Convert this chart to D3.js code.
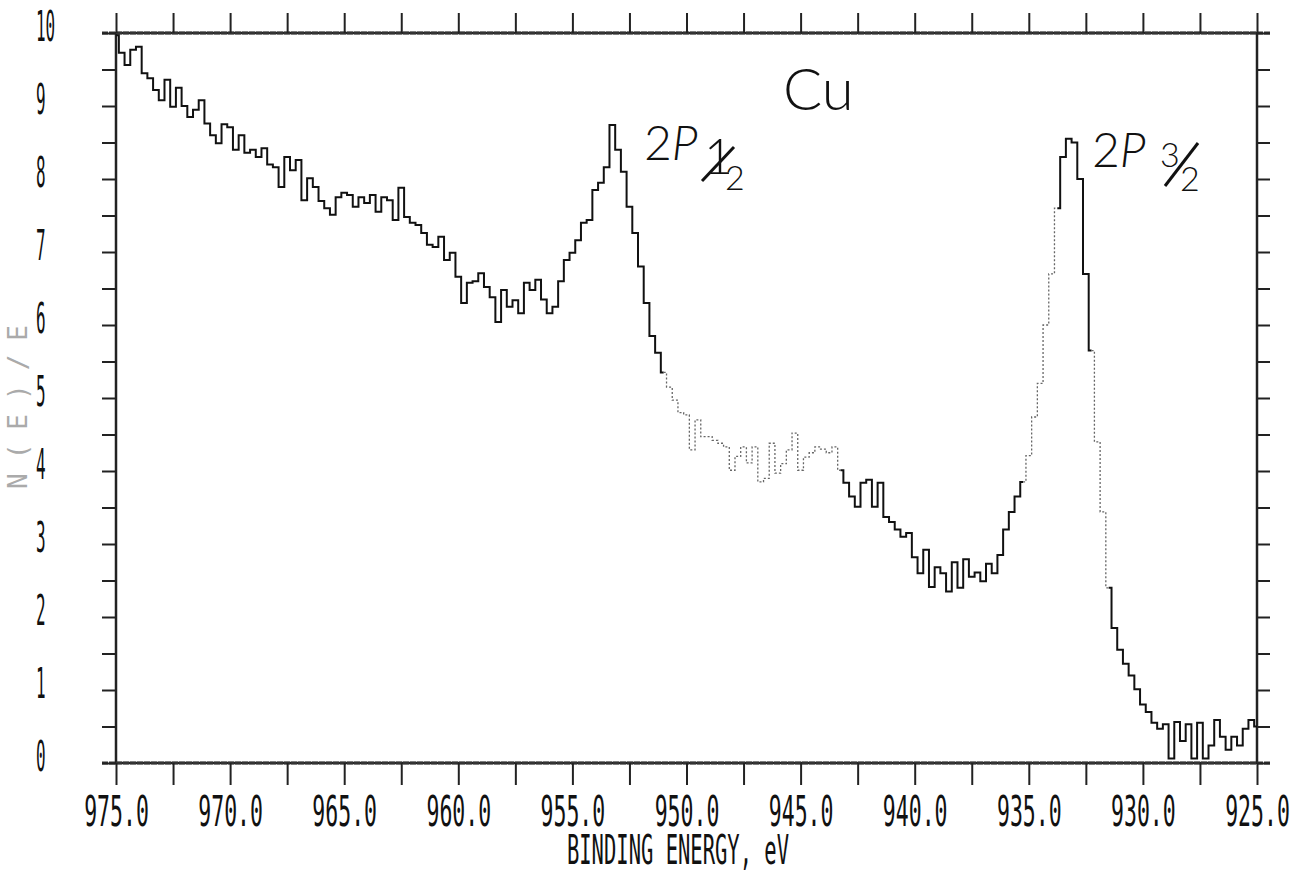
<!DOCTYPE html>
<html>
<head>
  <title>Cu 2p XPS spectrum</title>
  <style>
    body { margin: 0; background: #fff; }
    .tick line { stroke: #222; stroke-width: 2; }
    .domain { display: none; }
  </style>
</head>
<body>
  <div id="chart-container"></div>

  <script src="https://d3js.org/d3.v7.min.js"></script>
  <script>
// binding energy grid: 975.0 eV down to 925.0 eV in 0.25 eV channels
var eStart = 975, eStep = 0.25;

// N(E)/E counts, one per channel
var counts = [
  9.97, 9.73, 9.56, 9.77, 9.81, 9.45, 9.38, 9.22, 9.08, 9.36,
  8.99, 9.25, 9.00, 8.85, 8.95, 9.08, 8.76, 8.60, 8.49, 8.75,
  8.71, 8.40, 8.60, 8.36, 8.40, 8.30, 8.42, 8.20, 8.16, 7.89,
  8.30, 8.12, 8.26, 7.71, 8.01, 7.89, 7.70, 7.60, 7.51, 7.75,
  7.81, 7.78, 7.62, 7.75, 7.67, 7.78, 7.55, 7.75, 7.71, 7.44,
  7.88, 7.48, 7.40, 7.37, 7.26, 7.10, 7.07, 7.21, 6.89, 6.99,
  6.66, 6.30, 6.58, 6.60, 6.71, 6.52, 6.38, 6.04, 6.48, 6.25,
  6.34, 6.16, 6.58, 6.48, 6.62, 6.35, 6.16, 6.25, 6.60, 6.89,
  6.99, 7.16, 7.40, 7.44, 7.85, 7.95, 8.16, 8.74, 8.40, 8.10,
  7.62, 7.26, 6.80, 6.30, 5.85, 5.62, 5.35, 5.15, 4.97, 4.80,
  4.77, 4.29, 4.70, 4.47, 4.47, 4.42, 4.38, 4.33, 4.01, 4.20,
  4.33, 4.11, 4.33, 3.85, 3.90, 4.38, 3.97, 4.10, 4.29, 4.52,
  4.01, 4.19, 4.25, 4.33, 4.30, 4.25, 4.33, 4.01, 3.84, 3.65,
  3.51, 3.84, 3.88, 3.51, 3.84, 3.37, 3.30, 3.20, 3.10, 3.15,
  2.82, 2.60, 2.92, 2.41, 2.68, 2.60, 2.35, 2.75, 2.40, 2.79,
  2.55, 2.61, 2.49, 2.73, 2.60, 2.85, 3.20, 3.44, 3.65, 3.85,
  4.21, 4.74, 5.20, 6.00, 6.70, 7.60, 8.30, 8.55, 8.50, 8.00,
  6.70, 5.65, 4.40, 3.44, 2.40, 1.85, 1.55, 1.36, 1.20, 1.01,
  0.80, 0.70, 0.55, 0.47, 0.53, 0.06, 0.56, 0.30, 0.53, 0.06,
  0.55, 0.06, 0.24, 0.59, 0.36, 0.18, 0.36, 0.24, 0.47, 0.59,
  0.50
];

var energy = counts.map(function(d, i) { return eStart - i * eStep; });

// axis ticks
var xMajorTicks = [975, 970, 965, 960, 955, 950, 945, 940, 935, 930, 925];
var xMinorTicks = [972.5, 967.5, 962.5, 957.5, 952.5, 947.5, 942.5, 937.5, 932.5, 927.5];
var yTicks = [0, 0.5, 1, 1.5, 2, 2.5, 3, 3.5, 4, 4.5, 5, 5.5, 6, 6.5, 7, 7.5, 8, 8.5, 9, 9.5, 10];

// energy spans where the pen trace came out faint
var faintSpans = [[950.9, 943.2], [935.1, 933.6], [932.1, 931.4]];

var W = 1293, H = 873;
var pL = 116, pR = 1257, pT = 33, pB = 763;

var svg = d3.select("#chart-container")
  .append("svg")
  .attr("width", W)
  .attr("height", H);

var x = d3.scaleLinear().domain([975, 925]).range([pL, pR]);
var y = d3.scaleLinear().domain([0, 10]).range([pB, pT]);

var plotFont = "DejaVu Sans Mono";

// frame
svg.append("rect")
  .attr("x", pL).attr("y", pT)
  .attr("width", pR - pL).attr("height", pB - pT)
  .attr("fill", "none").attr("stroke", "#222").attr("stroke-width", 2.5);
svg.append("line")
  .attr("x1", pL - 14).attr("x2", pR + 13)
  .attr("y1", pT).attr("y2", pT)
  .attr("stroke", "#333").attr("stroke-width", 3).attr("stroke-dasharray", "6,1");
svg.append("line")
  .attr("x1", pL - 14).attr("x2", pR + 13)
  .attr("y1", pB).attr("y2", pB)
  .attr("stroke", "#333").attr("stroke-width", 3).attr("stroke-dasharray", "6,1");

// top ticks
svg.append("g")
  .attr("transform", "translate(0," + pT + ")")
  .call(d3.axisTop(x).tickValues(xMajorTicks.concat(xMinorTicks)).tickSize(20).tickFormat(""));

// bottom ticks and labels
svg.append("g")
  .attr("transform", "translate(0," + pB + ")")
  .call(d3.axisBottom(x).tickValues(xMinorTicks).tickSize(22).tickFormat(""));

var xAxis = svg.append("g")
  .attr("transform", "translate(0," + pB + ")")
  .call(d3.axisBottom(x).tickValues(xMajorTicks).tickSize(22).tickFormat(d3.format(".1f")));
xAxis.selectAll("text")
  .attr("y", 63).attr("dy", null)
  .attr("transform", "scale(0.5,1)")
  .attr("font-family", plotFont).attr("font-size", 43)
  .attr("fill", "#111");

// left ticks and labels
var yAxis = svg.append("g")
  .attr("transform", "translate(" + pL + ",0)")
  .call(d3.axisLeft(y).tickValues(yTicks).tickSize(14)
    .tickFormat(function(d) { return Number.isInteger(d) ? d : ""; }));
// scale shrinks x too, so the offset is divided back out
yAxis.selectAll("text")
  .attr("x", -80 / 0.38).attr("y", 7).attr("dy", null)
  .attr("text-anchor", "start")
  .attr("transform", "scale(0.38,1)")
  .attr("font-family", plotFont).attr("font-size", 42)
  .attr("fill", "#111");

// right ticks
svg.append("g")
  .attr("transform", "translate(" + pR + ",0)")
  .call(d3.axisRight(y).tickValues(yTicks).tickSize(13).tickFormat(""));

// axis titles
svg.append("text")
  .attr("transform", "translate(678,864) scale(0.5,1)")
  .attr("text-anchor", "middle")
  .attr("font-family", plotFont).attr("font-size", 41)
  .attr("fill", "#111")
  .text("BINDING ENERGY, eV");

svg.append("text")
  .attr("transform", "translate(27,400) rotate(-90)")
  .attr("text-anchor", "middle")
  .attr("font-family", plotFont).attr("font-size", 26)
  .attr("letter-spacing", 14)
  .attr("fill", "#aaa")
  .text("N(E)/E");

// spectrum, split into solid and faint pieces
var pts = energy.map(function(e, i) { return { e: e, v: counts[i] }; });
function isFaint(e) {
  return faintSpans.some(function(s) { return e <= s[0] && e >= s[1]; });
}
var pieces = [];
pts.forEach(function(p) {
  var f = isFaint(p.e);
  var last = pieces[pieces.length - 1];
  if (!last || last.faint !== f) {
    var seg = { faint: f, pts: [] };
    if (last) seg.pts.push(last.pts[last.pts.length - 1]);
    pieces.push(seg);
    last = seg;
  }
  last.pts.push(p);
});

var line = d3.line()
  .x(function(d) { return x(d.e); })
  .y(function(d) { return y(d.v); })
  .curve(d3.curveStep);

svg.selectAll("path.trace")
  .data(pieces)
  .enter()
  .append("path")
  .attr("class", "trace")
  .attr("d", function(d) { return line(d.pts); })
  .attr("fill", "none")
  .attr("stroke", function(d) { return d.faint ? "#666" : "#111"; })
  .attr("stroke-width", function(d) { return d.faint ? 1.3 : 2; })
  .attr("stroke-dasharray", function(d) { return d.faint ? "2,2" : null; });

// annotations
var noteFont = "Lato";
svg.append("text")
  .attr("x", 783).attr("y", 110)
  .attr("font-family", noteFont).attr("font-weight", 300).attr("font-size", 58)
  .attr("fill", "#111")
  .text("Cu");

function peakLabel(x0, base, fracTop, fracBot, slash) {
  var t = svg.append("text")
    .attr("x", x0).attr("y", base)
    .attr("font-family", noteFont).attr("font-weight", 300).attr("font-size", 48)
    .attr("fill", "#111");
  t.append("tspan").text("2");
  t.append("tspan").attr("font-style", "italic").text("P");
  svg.append("text")
    .attr("x", fracTop[0]).attr("y", fracTop[1])
    .attr("font-family", noteFont).attr("font-weight", 300).attr("font-size", fracTop[2])
    .attr("fill", "#111")
    .text(fracTop[3]);
  svg.append("text")
    .attr("x", fracBot[0]).attr("y", fracBot[1])
    .attr("font-family", noteFont).attr("font-weight", 300).attr("font-size", 34)
    .attr("fill", "#111")
    .text("2");
  svg.append("line")
    .attr("x1", slash[0]).attr("y1", slash[1])
    .attr("x2", slash[2]).attr("y2", slash[3])
    .attr("stroke", "#111").attr("stroke-width", 3);
}

peakLabel(644, 160, [704, 174, 50, "1"], [725, 190], [702, 181, 734, 147]);
peakLabel(1092, 167, [1160, 167, 34, "3"], [1180, 191], [1165, 186, 1198, 143]);
  </script>
</body>
</html>
